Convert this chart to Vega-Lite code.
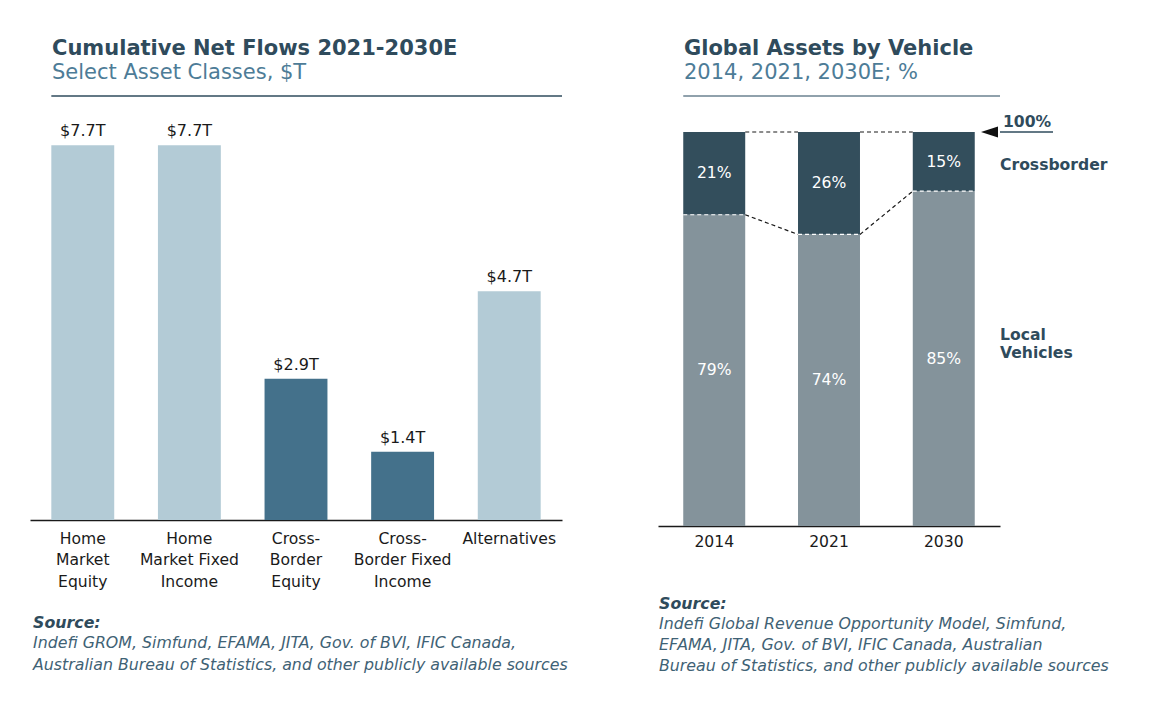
{
  "$schema": "https://vega.github.io/schema/vega-lite/v6.json",
  "padding": {"left": 30, "top": 38, "right": 5, "bottom": 5},
  "spacing": 90,
  "resolve": {"scale": {"color": "independent"}},
  "config": {
    "font": "DejaVu Sans",
    "view": {"stroke": null},
    "title": {"anchor": "start", "fontSize": 21, "fontWeight": "bold", "color": "#2f4b5c", "subtitleFontSize": 21, "subtitleColor": "#4d7c97", "subtitlePadding": 3}
  },
  "hconcat": [
    {
      "title": {
        "text": "Source:",
        "subtitle": ["Indefi GROM, Simfund, EFAMA, JITA, Gov. of BVI, IFIC Canada,", "Australian Bureau of Statistics, and other publicly available sources"],
        "orient": "bottom", "anchor": "start", "dx": 3, "offset": 26,
        "fontSize": 15.8, "fontStyle": "italic", "fontWeight": "bold", "color": "#2f4b5c",
        "subtitleFontSize": 15.8, "subtitleFontStyle": "italic", "subtitleColor": "#3f6275", "subtitlePadding": 5, "subtitleLineHeight": 22
      },
      "vconcat": [
        {
          "width": 532,
          "height": 424,
          "title": {"text": "Cumulative Net Flows 2021-2030E", "subtitle": "Select Asset Classes, $T", "dx": 22, "offset": 12},
          "data": {"values": [
            {"asset": "Home Market Equity", "flow": 7.7, "label": "$7.7T", "group": "Home"},
            {"asset": "Home Market Fixed Income", "flow": 7.7, "label": "$7.7T", "group": "Home"},
            {"asset": "Cross-Border Equity", "flow": 2.9, "label": "$2.9T", "group": "Cross-Border"},
            {"asset": "Cross-Border Fixed Income", "flow": 1.4, "label": "$1.4T", "group": "Cross-Border"},
            {"asset": "Alternatives", "flow": 4.7, "label": "$4.7T", "group": "Alternatives"}
          ]},
          "encoding": {
            "x": {
              "field": "asset", "type": "nominal", "sort": null, "title": null,
              "scale": {"paddingInner": 0.41, "paddingOuter": 0.2},
              "axis": {
                "labelAngle": 0, "ticks": false, "domainColor": "#1a1a1a", "domainWidth": 1.5,
                "labelFontSize": 15.6, "labelColor": "#1a1a1a", "labelPadding": 11, "labelLineHeight": 21.5,
                "labelExpr": "datum.label == 'Home Market Equity' ? ['Home','Market','Equity'] : datum.label == 'Home Market Fixed Income' ? ['Home','Market Fixed','Income'] : datum.label == 'Cross-Border Equity' ? ['Cross-','Border','Equity'] : datum.label == 'Cross-Border Fixed Income' ? ['Cross-','Border Fixed','Income'] : datum.label"
              }
            }
          },
          "layer": [
            {
              "mark": {"type": "bar"},
              "encoding": {
                "y": {"field": "flow", "type": "quantitative", "scale": {"domain": [0, 8.71], "nice": false}, "axis": null},
                "color": {"field": "group", "type": "nominal", "scale": {"domain": ["Home", "Cross-Border", "Alternatives"], "range": ["#b3cbd6", "#44718b", "#b3cbd6"]}, "legend": null}
              }
            },
            {
              "mark": {"type": "text", "baseline": "bottom", "dy": -6, "fontSize": 16, "color": "#1a1a1a"},
              "encoding": {
                "y": {"field": "flow", "type": "quantitative"},
                "text": {"field": "label"}
              }
            },
            {
              "data": {"values": [{}]},
              "mark": {"type": "rule", "color": "#2f4b5c", "strokeWidth": 1.5},
              "encoding": {
                "x": {"datum": "Home Market Equity", "bandPosition": 0, "title": null},
                "x2": {"value": "width"},
                "y": {"datum": 8.71}
              }
            }
          ]
        }
      ]
    },
    {
      "title": {
        "text": "Source:",
        "subtitle": ["Indefi Global Revenue Opportunity Model, Simfund,", "EFAMA, JITA, Gov. of BVI, IFIC Canada, Australian", "Bureau of Statistics, and other publicly available sources"],
        "orient": "bottom", "anchor": "start", "dx": 1, "offset": 47,
        "fontSize": 15.8, "fontStyle": "italic", "fontWeight": "bold", "color": "#2f4b5c",
        "subtitleFontSize": 15.8, "subtitleFontStyle": "italic", "subtitleColor": "#3f6275", "subtitlePadding": 5, "subtitleLineHeight": 21
      },
      "vconcat": [
        {
          "width": 342,
          "height": 430,
          "title": {"text": "Global Assets by Vehicle", "subtitle": "2014, 2021, 2030E; %", "dx": 26, "offset": 12},
          "data": {"values": [
            {"year": "2014", "segment": "Local Vehicles", "pct": 79, "label": "79%"},
            {"year": "2014", "segment": "Crossborder", "pct": 21, "label": "21%"},
            {"year": "2021", "segment": "Local Vehicles", "pct": 74, "label": "74%"},
            {"year": "2021", "segment": "Crossborder", "pct": 26, "label": "26%"},
            {"year": "2030", "segment": "Local Vehicles", "pct": 85, "label": "85%"},
            {"year": "2030", "segment": "Crossborder", "pct": 15, "label": "15%"}
          ]},
          "encoding": {
            "x": {
              "field": "year", "type": "nominal", "sort": null, "title": null,
              "scale": {"paddingInner": 0.46, "paddingOuter": 0.22},
              "axis": {"labelAngle": 0, "ticks": false, "domainColor": "#1a1a1a", "domainWidth": 1.5, "labelFontSize": 15.6, "labelColor": "#1a1a1a", "labelPadding": 8}
            }
          },
          "layer": [
            {
              "mark": {"type": "bar"},
              "encoding": {
                "y": {"field": "pct", "type": "quantitative", "stack": "zero", "scale": {"domain": [0, 109.14], "nice": false}, "axis": null},
                "order": {"field": "segment", "sort": "descending"},
                "color": {"field": "segment", "type": "nominal", "scale": {"domain": ["Crossborder", "Local Vehicles"], "range": ["#334e5c", "#84939b"]}, "legend": null}
              }
            },
            {
              "mark": {"type": "text", "fontSize": 15.6, "color": "white", "baseline": "middle"},
              "encoding": {
                "y": {"field": "pct", "type": "quantitative", "stack": "zero", "bandPosition": 0.5},
                "order": {"field": "segment", "sort": "descending"},
                "text": {"field": "label"}
              }
            },
            {
              "data": {"values": [
                {"year": "2014", "boundary": 79},
                {"year": "2021", "boundary": 74},
                {"year": "2030", "boundary": 85}
              ]},
              "mark": {"type": "rule", "color": "white", "strokeDash": [4, 3], "strokeWidth": 1.2},
              "encoding": {
                "x": {"field": "year", "type": "nominal", "bandPosition": 0},
                "x2": {"field": "year", "bandPosition": 1},
                "y": {"field": "boundary", "type": "quantitative"}
              }
            },
            {
              "data": {"values": [
                {"from": "2014", "to": "2021", "v1": 100, "v2": 100},
                {"from": "2021", "to": "2030", "v1": 100, "v2": 100},
                {"from": "2014", "to": "2021", "v1": 79, "v2": 74},
                {"from": "2021", "to": "2030", "v1": 74, "v2": 85}
              ]},
              "mark": {"type": "rule", "color": "#1a1a1a", "strokeDash": [4, 3], "strokeWidth": 1.2},
              "encoding": {
                "x": {"field": "from", "type": "nominal", "bandPosition": 1},
                "x2": {"field": "to", "bandPosition": 0},
                "y": {"field": "v1", "type": "quantitative"},
                "y2": {"field": "v2"}
              }
            },
            {
              "data": {"values": [{}]},
              "mark": {"type": "rule", "color": "#6b8291", "strokeWidth": 1.5},
              "encoding": {
                "x": {"datum": "2014", "bandPosition": 0, "title": null},
                "x2": {"value": "width"},
                "y": {"datum": 109.14}
              }
            },
            {
              "data": {"values": [{}]},
              "mark": {"type": "rule", "color": "#2f4b5c", "strokeWidth": 1.5, "x2Offset": 53},
              "encoding": {
                "x": {"value": "width"},
                "x2": {"value": "width"},
                "y": {"datum": 100}
              }
            },
            {
              "data": {"values": [{}]},
              "mark": {"type": "point", "shape": "M-1,0L1,-0.65L1,0.65Z", "filled": true, "color": "#111111", "size": 289, "opacity": 1, "xOffset": -10.5},
              "encoding": {
                "x": {"value": "width"},
                "y": {"datum": 100}
              }
            },
            {
              "data": {"values": [{}]},
              "mark": {"type": "text", "align": "left", "baseline": "bottom", "dx": 3, "dy": -2, "fontSize": 15.6, "fontWeight": "bold", "color": "#2f4b5c", "text": "100%"},
              "encoding": {
                "x": {"value": "width"},
                "y": {"datum": 100}
              }
            },
            {
              "data": {"values": [{}]},
              "mark": {"type": "text", "align": "left", "baseline": "middle", "fontSize": 15.6, "fontWeight": "bold", "color": "#2f4b5c", "text": "Crossborder"},
              "encoding": {
                "x": {"value": "width"},
                "y": {"datum": 91.5}
              }
            },
            {
              "data": {"values": [{}]},
              "mark": {"type": "text", "align": "left", "baseline": "middle", "fontSize": 15.6, "fontWeight": "bold", "color": "#2f4b5c", "text": ["Local", "Vehicles"], "lineHeight": 18},
              "encoding": {
                "x": {"value": "width"},
                "y": {"datum": 48.5}
              }
            }
          ]
        }
      ]
    }
  ]
}
